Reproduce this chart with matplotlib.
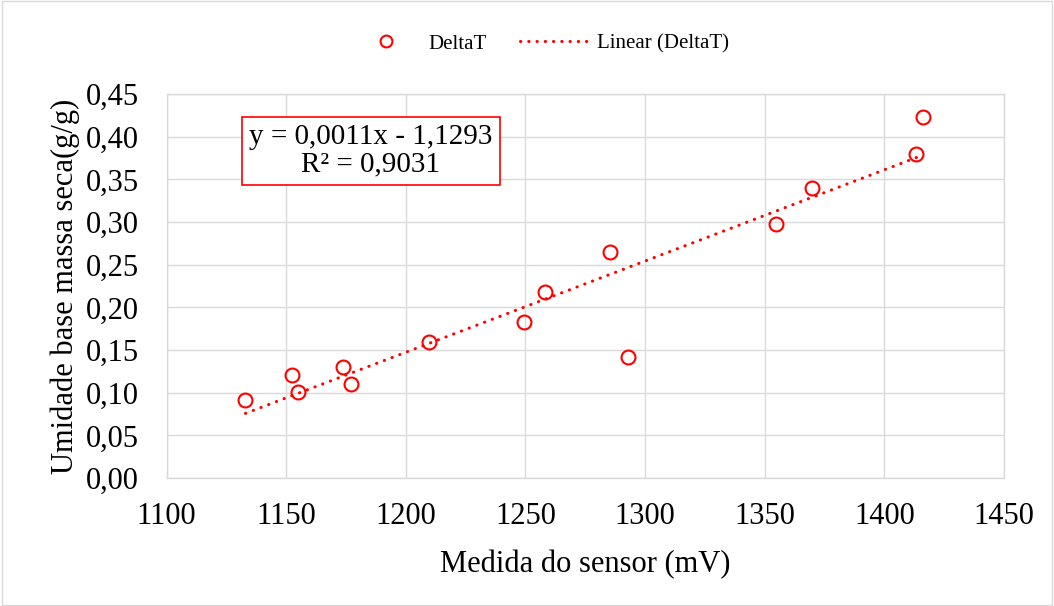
import numpy as np
from matplotlib import pyplot as plt
from matplotlib.patches import Rectangle

plt.rcParams['font.family'] = ['Liberation Serif', 'DejaVu Serif']

sensor_mv = [1133.0, 1152.3, 1154.8, 1173.6, 1177.2, 1209.7, 1249.5, 1258.2,
             1285.3, 1293.0, 1354.7, 1369.9, 1413.3, 1416.1]
umidade = [0.092, 0.121, 0.101, 0.130, 0.110, 0.159, 0.183, 0.218,
           0.265, 0.142, 0.298, 0.340, 0.380, 0.423]

x_ticks = [1100, 1150, 1200, 1250, 1300, 1350, 1400, 1450]
y_ticks = [0.00, 0.05, 0.10, 0.15, 0.20, 0.25, 0.30, 0.35, 0.40, 0.45]

red = '#ff0000'
grid = '#d9d9d9'

fig = plt.figure(figsize=(10.54, 6.06), dpi=100)
ax = fig.add_axes([0.158, 0.2112, 0.7946, 0.6337])

# moldura da figura
fig.patches.append(Rectangle((0.002, 0.002), 0.996, 0.996, transform=fig.transFigure,
                             fill=False, edgecolor=grid, linewidth=1))

ax.plot(sensor_mv, umidade, 'o', markerfacecolor='none', markeredgecolor=red,
        markersize=10, markeredgewidth=1.5, label='DeltaT', zorder=3)

coef = np.polyfit(sensor_mv, umidade, 1)
xt = np.array([min(sensor_mv), max(sensor_mv)])
ax.plot(xt, np.polyval(coef, xt), color=red, linewidth=2.2,
        linestyle=(0, (0.1, 2.6)), dash_capstyle='round', label='Linear (DeltaT)', zorder=2)

ax.set_xlim(1100, 1450)
ax.set_ylim(0, 0.45)
ax.set_xticks(x_ticks)
ax.set_yticks(y_ticks)
ax.set_yticklabels([f'{v:.2f}'.replace('.', ',') for v in y_ticks])
ax.tick_params(length=0, labelsize=22)
ax.tick_params(axis='y', pad=20)
ax.tick_params(axis='x', pad=17)
ax.grid(True, color=grid, linewidth=1)
ax.set_axisbelow(True)
for s in ax.spines.values():
    s.set_color(grid)
    s.set_linewidth(1)

ax.set_xlabel('Medida do sensor (mV)', fontsize=22, labelpad=14)
ax.set_ylabel('Umidade base massa seca(g/g)', fontsize=22, labelpad=4)

ax.text(0.244, 0.852, 'y = 0,0011x - 1,1293\nR² = 0,9031', transform=ax.transAxes,
        ha='center', va='center', fontsize=21, linespacing=1.1,
        bbox=dict(boxstyle='square,pad=0.25', facecolor='white', edgecolor=red, linewidth=1.2))

fig.legend(loc='center', bbox_to_anchor=(540 / 1054, 1 - 44 / 606), ncol=2, frameon=False,
           fontsize=15, handlelength=3.37, columnspacing=1.6, handletextpad=0.34,
           markerscale=0.85)

plt.savefig('out.png', dpi=100)
